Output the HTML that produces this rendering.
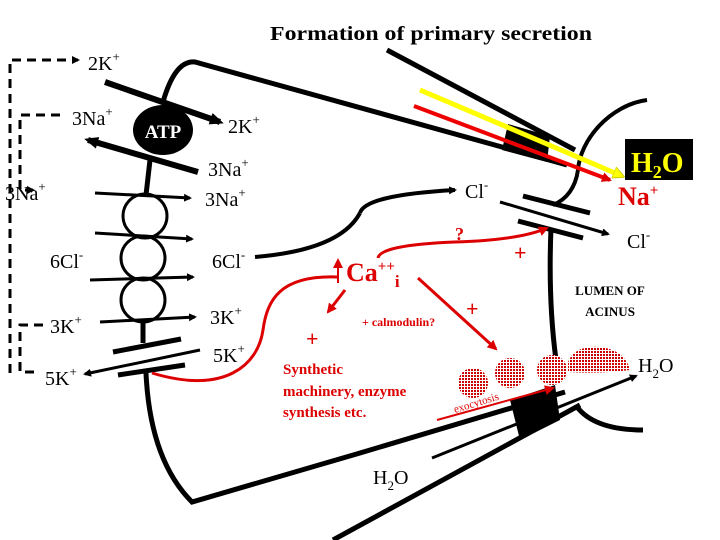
<!DOCTYPE html>
<html><head><meta charset="utf-8"><style>
html,body{margin:0;padding:0;background:#fff}
svg{display:block}
text{font-family:"Liberation Serif",serif}
</style></head><body>
<svg width="720" height="540" viewBox="0 0 720 540" xmlns="http://www.w3.org/2000/svg">
<defs>
<marker id="ab" markerWidth="8" markerHeight="8" refX="6" refY="4" orient="auto" markerUnits="userSpaceOnUse"><path d="M0,0 L8,4 L0,8z" fill="#000"/></marker>
<marker id="abl" markerWidth="14" markerHeight="12" refX="10" refY="6" orient="auto" markerUnits="userSpaceOnUse"><path d="M0,0 L14,6 L0,12z" fill="#000"/></marker>
<marker id="ar" markerWidth="10" markerHeight="10" refX="8" refY="5" orient="auto" markerUnits="userSpaceOnUse"><path d="M0,0 L10,5 L0,10z" fill="#d00"/></marker>
<marker id="ay" markerWidth="12" markerHeight="12" refX="9" refY="6" orient="auto" markerUnits="userSpaceOnUse"><path d="M0,0 L12,6 L0,12z" fill="#ff0" stroke="#cc0"/></marker>
<pattern id="dots" width="3" height="3" patternUnits="userSpaceOnUse"><rect width="3" height="3" fill="#fff"/><rect width="2" height="2" fill="#c00"/></pattern>
</defs>
<g fill="none" stroke="#000">
<path d="M10,373 L10,60 L78,60" stroke-width="3" stroke-dasharray="9,6" marker-end="url(#ab)"/>
<path d="M60,115 L20,115 L20,190 L33,190" stroke-width="3" stroke-dasharray="9,6" marker-end="url(#ab)"/>
<path d="M43,325 L20,325 L20,372 L36,372" stroke-width="3" stroke-dasharray="9,6"/>
<path d="M163,102 Q175,60 195,62 L567,165" stroke-width="5"/>
<path d="M647,100 C610,105 580,140 578,170 C575,190 565,200 553,205" stroke-width="4"/>
<path d="M551,228 Q548,300 556,360" stroke-width="5"/>
<path d="M146,373 Q150,460 192,502 L360,453 L565,392" stroke-width="5"/>
<path d="M577,407 Q595,430 643,430" stroke-width="5"/>
<path d="M333,540 L580,405" stroke-width="5"/>
<path d="M255,257 Q340,250 360,213" stroke-width="4"/>
<path d="M360,213 Q365,195 455,190" stroke-width="4" marker-end="url(#ab)"/>
<path d="M387,50 L575,150" stroke-width="5"/>
<path d="M105,82 L220,122" stroke-width="6" marker-end="url(#abl)"/>
<path d="M198,172 L88,140" stroke-width="6" marker-end="url(#abl)"/>
<path d="M150,160 L146,195" stroke-width="5"/>
<circle cx="145" cy="216" r="22" stroke-width="3"/>
<circle cx="143" cy="258" r="22" stroke-width="3"/>
<circle cx="143" cy="300" r="22" stroke-width="3"/>
<path d="M95,193 L190,198" stroke-width="3" marker-end="url(#ab)"/>
<path d="M95,233 L192,239" stroke-width="3" marker-end="url(#ab)"/>
<path d="M90,280 L193,277" stroke-width="3" marker-end="url(#ab)"/>
<path d="M100,322 L195,317" stroke-width="3" marker-end="url(#ab)"/>
<path d="M143,322 L143,343" stroke-width="5"/>
<path d="M113,352 L181,339 M118,375 L185,365" stroke-width="5"/>
<path d="M200,350 L85,374" stroke-width="3" marker-end="url(#ab)"/>
<path d="M523,196 L590,213 M518,221 L583,238" stroke-width="5"/>
<path d="M500,202 L608,234" stroke-width="3" marker-end="url(#ab)"/>
<path d="M432,458 L636,376" stroke-width="3" marker-end="url(#ab)"/>
</g>
<ellipse cx="163" cy="130" rx="30" ry="25" fill="#000"/>
<text x="163" y="138" font-size="19" fill="#fff" text-anchor="middle" font-weight="bold">ATP</text>
<polygon points="508,124 550,136 547,162 502,150" fill="#000"/>
<polygon points="510,400 555,385 560,420 520,440" fill="#000"/>
<path d="M420,90 L622,176" stroke="#ff0" stroke-width="5" marker-end="url(#ay)"/>
<path d="M414,106 L610,180" stroke="#e00" stroke-width="4" marker-end="url(#ar)"/>
<rect x="625" y="139" width="68" height="41" fill="#000"/>
<text x="631" y="172" font-size="28" font-weight="bold" fill="#ff0">H<tspan font-size="18" dy="6">2</tspan><tspan dy="-6">O</tspan></text>
<text x="618" y="205" font-size="26" font-weight="bold" fill="#d00">Na<tspan font-size="15" dy="-10">+</tspan></text>
<g fill="none" stroke="#d00" stroke-width="3">
<path d="M378,258 Q380,245 455,242 Q520,240 547,228" marker-end="url(#ar)"/>
<path d="M418,278 L496,349" marker-end="url(#ar)"/>
<path d="M345,290 L328,312" marker-end="url(#ar)"/>
<path d="M337,277 C280,275 267,300 263,330 C258,365 225,395 152,373"/>
<path d="M437,420 L553,388" stroke-width="2" marker-end="url(#ar)"/>
<path d="M338,283 L338,260" marker-end="url(#ar)" stroke-width="2"/>
</g>
<g fill="url(#dots)">
<circle cx="473" cy="383" r="15"/><circle cx="510" cy="373" r="15"/><circle cx="552" cy="370" r="15"/>
<path d="M568,362 Q575,345 600,347 Q625,350 630,370 Q600,374 568,372z"/>
</g>
<g fill="#d00" font-weight="bold">
<text x="455" y="240" font-size="18">?</text>
<text x="514" y="260" font-size="22">+</text>
<text x="466" y="316" font-size="22">+</text>
<text x="306" y="346" font-size="22">+</text>
<text x="362" y="326" font-size="12">+ calmodulin?</text>
<text x="346" y="281" font-size="26">Ca<tspan font-size="15" dy="-10">++</tspan><tspan font-size="17" dy="16">i</tspan></text>
<text x="283" y="374" font-size="15">Synthetic</text>
<text x="283" y="396" font-size="15">machinery, enzyme</text>
<text x="283" y="417" font-size="15">synthesis etc.</text>
<text x="0" y="0" font-size="11" font-weight="normal" transform="translate(455,413) rotate(-17)">exocytosis</text>
</g>
<g fill="#000" font-size="20">
<text x="270" y="40" font-weight="bold" textLength="322" lengthAdjust="spacingAndGlyphs">Formation of primary secretion</text>
<text x="88" y="70">2K<tspan font-size="13" dy="-9">+</tspan></text>
<text x="72" y="125">3Na<tspan font-size="13" dy="-9">+</tspan></text>
<text x="228" y="133">2K<tspan font-size="13" dy="-9">+</tspan></text>
<text x="208" y="176">3Na<tspan font-size="13" dy="-9">+</tspan></text>
<text x="5" y="200">3Na<tspan font-size="13" dy="-9">+</tspan></text>
<text x="205" y="206">3Na<tspan font-size="13" dy="-9">+</tspan></text>
<text x="50" y="268">6Cl<tspan font-size="13" dy="-9">-</tspan></text>
<text x="212" y="268">6Cl<tspan font-size="13" dy="-9">-</tspan></text>
<text x="50" y="333">3K<tspan font-size="13" dy="-9">+</tspan></text>
<text x="210" y="324">3K<tspan font-size="13" dy="-9">+</tspan></text>
<text x="45" y="385">5K<tspan font-size="13" dy="-9">+</tspan></text>
<text x="213" y="362">5K<tspan font-size="13" dy="-9">+</tspan></text>
<text x="465" y="198">Cl<tspan font-size="13" dy="-9">-</tspan></text>
<text x="627" y="248">Cl<tspan font-size="13" dy="-9">-</tspan></text>
<text x="638" y="372">H<tspan font-size="13" dy="6">2</tspan><tspan dy="-6">O</tspan></text>
<text x="373" y="484">H<tspan font-size="13" dy="6">2</tspan><tspan dy="-6">O</tspan></text>
<text x="610" y="295" font-size="13" font-weight="bold" text-anchor="middle">LUMEN OF</text>
<text x="610" y="316" font-size="13" font-weight="bold" text-anchor="middle">ACINUS</text>
</g>
</svg>
</body></html>
